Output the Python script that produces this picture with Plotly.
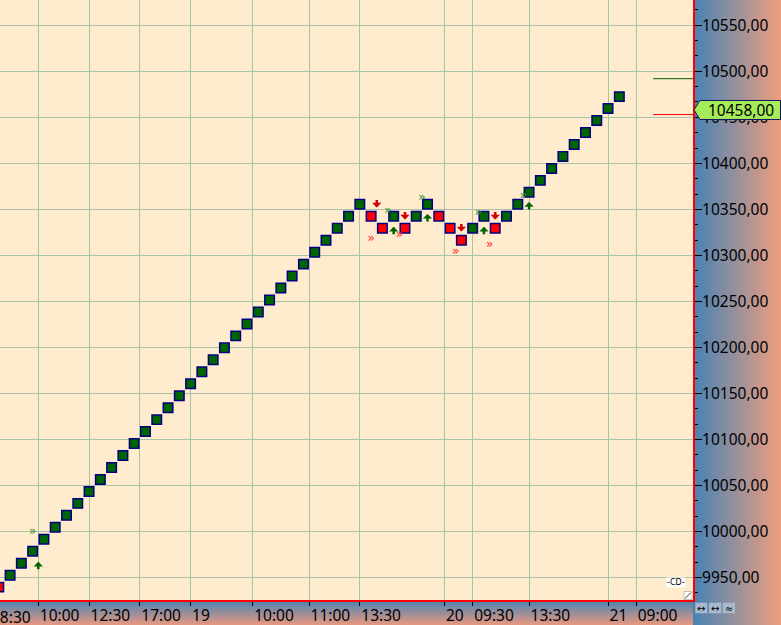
import base64
import plotly.graph_objects as go

# ---------------- data ----------------
BRICK_SIZE = 13
brick_index = list(range(56))
brick_low = [9933,
             9946, 9959, 9972, 9985, 9998, 10011, 10024, 10037, 10050, 10063, 10076,
             10089, 10102, 10115, 10128, 10141, 10154, 10167, 10180, 10193, 10206,
             10219, 10232, 10245, 10258, 10271, 10284, 10297, 10310, 10323, 10336, 10349,
             10336, 10323, 10336, 10323, 10336, 10349, 10336, 10323, 10310, 10323, 10336,
             10323, 10336,
             10349, 10362, 10375, 10388, 10401, 10414, 10427, 10440, 10453, 10466]
brick_dir = "DUUUUUUUUUUUUUUUUUUUUUUUUUUUUUUUUDDUDUUDDDUUDUUUUUUUUUUU"

time_tick_pos = [3.5, 8.0, 12.5, 17.0, 22.5, 27.5, 32.0, 39.5, 42.0, 47.0, 54.0, 56.5]
time_tick_text = ["10:00", "12:30", "17:00", "19", "10:00", "11:00", "13:30",
                  "20", "09:30", "13:30", "21", "09:00"]
first_time_label = "08:30"
first_time_pos = -1.0

up_arrow_x = [3.5, 35.0, 38.0, 43.0, 47.0]
up_arrow_y = [9967, 10331, 10345, 10331, 10358]
down_arrow_x = [33.5, 36.0, 41.0, 44.0]
down_arrow_y = [10352, 10339, 10326, 10339]
green_chev_x = [3.0, 34.5, 37.5, 42.5, 46.5]
green_chev_y = [9999, 10348, 10362, 10346, 10365]
red_chev_x = [33.0, 35.5, 40.5, 43.5]
red_chev_y = [10318, 10322, 10304, 10311]

next_up_level = 10492
reversal_level = 10453
last_price = 10458
level_x = [58.0, 61.8]

X_RANGE = [0.106, 61.53]
Y_RANGE = [9925.5, 10577.5]

# ---------------- styling ----------------
W, H = 781, 625
ML, MR, MT, MB = 0, 88, 0, 25
PW, PH = W - ML - MR, H - MT - MB
FONT = "Noto Sans, DejaVu Sans, sans-serif"
FS = 15.5
BG = "#FFEBCD"
GRID = "#a8c4a8"
BLUE = "#4682B4"
SALMON = "#EF9F80"
px_per_unit_y = PH / (Y_RANGE[1] - Y_RANGE[0])


def grad_uri(horizontal, c1, c2):
    x2, y2 = ("1", "0") if horizontal else ("0", "1")
    svg = ('<svg xmlns="http://www.w3.org/2000/svg" width="100" height="100" preserveAspectRatio="none">'
           '<defs><linearGradient id="g" x1="0" y1="0" x2="%s" y2="%s">'
           '<stop offset="0" stop-color="%s"/><stop offset="1" stop-color="%s"/>'
           '</linearGradient></defs><rect width="100" height="100" fill="url(#g)"/></svg>'
           % (x2, y2, c1, c2))
    return "data:image/svg+xml;base64," + base64.b64encode(svg.encode()).decode()


fig = go.Figure()

# bricks
inner_h = BRICK_SIZE - 2.5 / px_per_unit_y
off = (BRICK_SIZE - inner_h) / 2
fig.add_trace(go.Bar(
    x=brick_index,
    y=[inner_h for _ in brick_low],
    base=[v + off for v in brick_low],
    width=0.842,
    marker=dict(color=["#006400" if d == "U" else "#FF0000" for d in brick_dir],
                line=dict(color="#000080", width=1.5)),
    hoverinfo="skip",
))

# chevrons
fig.add_trace(go.Scatter(x=green_chev_x, y=green_chev_y, mode="text",
                         text=["»" for _ in green_chev_x],
                         textfont=dict(size=12, color="#2a8f2a", family="DejaVu Sans"),
                         hoverinfo="skip"))
fig.add_trace(go.Scatter(x=red_chev_x, y=red_chev_y, mode="text",
                         text=["»" for _ in red_chev_x],
                         textfont=dict(size=12, color="#ff2a2a", family="DejaVu Sans"),
                         hoverinfo="skip"))

# level lines
fig.add_trace(go.Scatter(x=level_x, y=[next_up_level, next_up_level], mode="lines",
                         line=dict(color="#006400", width=1), hoverinfo="skip"))
fig.add_trace(go.Scatter(x=level_x, y=[reversal_level, reversal_level], mode="lines",
                         line=dict(color="#FF0000", width=1), hoverinfo="skip"))

annotations = []
for xv, yv in zip(up_arrow_x, up_arrow_y):
    annotations.append(dict(x=xv, y=yv, xref="x", yref="y", text="", showarrow=True,
                            ax=0, ay=9, arrowhead=1, arrowsize=0.62, arrowwidth=2.5,
                            arrowcolor="#006400", standoff=0, startstandoff=0))
for xv, yv in zip(down_arrow_x, down_arrow_y):
    annotations.append(dict(x=xv, y=yv, xref="x", yref="y", text="", showarrow=True,
                            ax=0, ay=-9, arrowhead=1, arrowsize=0.62, arrowwidth=2.5,
                            arrowcolor="#D00000", standoff=0, startstandoff=0))

# clipped first time label
first_px = (first_time_pos - X_RANGE[0]) / (X_RANGE[1] - X_RANGE[0]) * PW
annotations.append(dict(x=(first_px + 1.5) / PW, y=0, xref="paper", yref="paper",
                        xanchor="left", yanchor="top", yshift=-4, text=first_time_label,
                        showarrow=False, font=dict(family=FONT, size=FS, color="black")))

# price label text
annotations.append(dict(x=706 / PW, y=last_price, xref="paper", yref="y",
                        xanchor="left", yanchor="middle",
                        text=("%.2f" % last_price).replace(".", ","),
                        showarrow=False, font=dict(family=FONT, size=FS, color="black")))

# small icons
annotations.append(dict(x=676 / PW, y=(600 - 582) / PH, xref="paper", yref="paper",
                        xanchor="center", yanchor="middle", text="-CD-", showarrow=False,
                        bgcolor="white", borderpad=0,
                        font=dict(family="DejaVu Sans", size=8, color="black")))
for cx, sym in [(701, "↔"), (715, "↔"), (728.5, "≈")]:
    annotations.append(dict(x=cx / PW, y=-(608 - 600) / PH, xref="paper", yref="paper",
                            xanchor="center", yanchor="middle", text=sym, showarrow=False,
                            font=dict(family="DejaVu Sans", size=10, color="black")))

half = 9.5 / px_per_unit_y
shapes = [
    # price label
    dict(type="path", xref="paper", yref="y", layer="above",
         path="M %f,%f L %f,%f L %f,%f L %f,%f L %f,%f Z" % (
             694 / PW, last_price,
             700 / PW, last_price + half,
             780.5 / PW, last_price + half,
             780.5 / PW, last_price - half,
             700 / PW, last_price - half),
         fillcolor="#a6ec58", line=dict(color="#141466", width=1)),
    # resize grip
    dict(type="rect", xref="paper", yref="paper", layer="above",
         x0=684 / PW, x1=692 / PW, y0=0.5 / PH, y1=8.5 / PH,
         fillcolor="white", line=dict(color="#888888", width=0.5)),
    dict(type="line", xref="paper", yref="paper", layer="above",
         x0=685 / PW, x1=691 / PW, y0=1.5 / PH, y1=7.5 / PH,
         line=dict(color="#333333", width=1)),
]
for x0, x1 in [(695.3, 707.3), (709, 721.3), (722.7, 735)]:
    shapes.append(dict(type="rect", xref="paper", yref="paper", layer="above",
                       x0=x0 / PW, x1=x1 / PW, y0=-(613.3 - 600) / PH, y1=-(602.7 - 600) / PH,
                       fillcolor="#a9b9cc", line=dict(width=0)))

images = [
    dict(source=grad_uri(True, BLUE, SALMON), xref="paper", yref="paper",
         x=1, y=1, sizex=MR / PW, sizey=H / PH, xanchor="left", yanchor="top",
         sizing="stretch", layer="below"),
    dict(source=grad_uri(False, BLUE, "#E8987F"), xref="paper", yref="paper",
         x=0, y=0, sizex=1, sizey=MB / PH, xanchor="left", yanchor="top",
         sizing="stretch", layer="below"),
]

fig.update_layout(
    width=W, height=H,
    margin=dict(l=ML, r=MR, t=MT, b=MB, pad=0, autoexpand=False),
    paper_bgcolor=BG, plot_bgcolor=BG,
    showlegend=False, hovermode=False,
    separators=",.",
    font=dict(family=FONT, size=FS, color="black"),
    annotations=annotations, shapes=shapes, images=images,
    xaxis=dict(range=X_RANGE, tickmode="array", tickvals=time_tick_pos, ticktext=time_tick_text,
               ticklabelposition="outside right", tickangle=0, automargin=False,
               ticks="outside", ticklen=4, tickcolor="black",
               tickwidth=1, showgrid=True, gridcolor=GRID, gridwidth=1, zeroline=False,
               showline=True, linecolor="#FF0000", linewidth=2,
               tickfont=dict(family=FONT, size=FS, color="black"), fixedrange=True),
    yaxis=dict(range=Y_RANGE, side="right", dtick=50, tick0=0, tickformat=".2f",
               automargin=False, ticklabelstandoff=-3,
               ticks="outside", ticklen=7, tickcolor="black", tickwidth=1,
               showgrid=True, gridcolor=GRID, gridwidth=1, zeroline=False,
               showline=True, linecolor="#FF0000", linewidth=2,
               minor=dict(tickmode="linear", tick0=9950, dtick=50 / 3, ticks="outside",
                          ticklen=3, tickcolor="black", tickwidth=1, showgrid=False),
               tickfont=dict(family=FONT, size=FS, color="black"), fixedrange=True),
)

fig.write_html("out.html", config={"displayModeBar": False},
               post_script="document.body.style.margin='0';document.body.style.padding='0';")
